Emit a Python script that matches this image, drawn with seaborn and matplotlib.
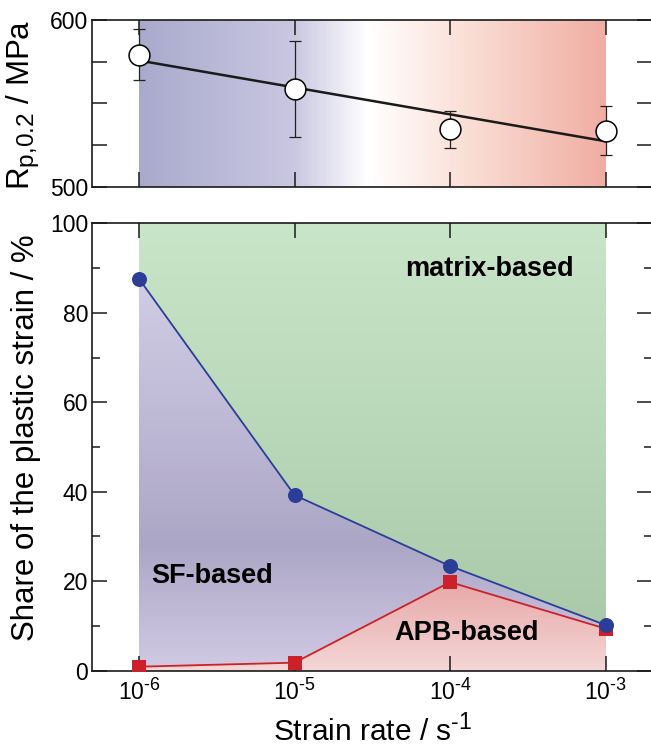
import numpy as np
import pandas as pd
import matplotlib
matplotlib.use("Agg")
import matplotlib.pyplot as plt
import seaborn as sns
from matplotlib.colors import LinearSegmentedColormap
from matplotlib.ticker import NullLocator, FixedLocator, MultipleLocator

try:
    import matplotlib._mathtext as _mt
    _mt.SHRINK_FACTOR = 0.78
except Exception:
    pass

# ---------------- data ----------------
strain_rate = [1e-6, 1e-5, 1e-4, 1e-3]
rp02 = [579.3, 558.6, 534.5, 533.5]
rp02_err = [15.5, 29.0, 11.2, 14.7]

sf_upper = [87.6, 39.25, 23.4, 10.2]      # SF-based / matrix boundary (blue)
apb_upper = [0.9, 1.8, 19.8, 9.4]         # APB-based / SF boundary (red)

x_ticks = [1e-6, 1e-5, 1e-4, 1e-3]
x_tick_labels = ['10$^{\\mathregular{\u20106}}$', '10$^{\\mathregular{\u20105}}$',
                 '10$^{\\mathregular{\u20104}}$', '10$^{\\mathregular{\u20103}}$']
top_yticks = [500, 525, 550, 575, 600]
top_ytick_labels = ['500', '', '', '', '600']

# gradient colours
top_grad_pos = [0.0, 0.333, 0.49, 0.667, 1.0]
top_grad_colors = ['#a9a9cc', '#c9c7e1', '#ffffff', '#fbe4dc', '#f0ada2']
green_stops = [0, 10, 100]
green_colors = ['#a8c8a8', '#a9c9a9', '#c9e5c9']
purple_stops = [0, 28, 60, 100]
purple_colors = ['#d0cae4', '#aca6c6', '#c0bbd7', '#d8d4ea']
red_stops = [0, 20, 100]
red_colors = ['#f4d6d6', '#e7a6a6', '#e7a6a6']

blue = '#2b3d97'
red = '#cc2128'

# ---------------- style ----------------
sns.set_theme(style="ticks")
plt.rcParams['font.family'] = ['Liberation Sans', 'DejaVu Sans']
plt.rcParams.update({
    'mathtext.fontset': 'custom',
    'mathtext.rm': 'Liberation Sans',
    'mathtext.it': 'Liberation Sans:italic',
    'mathtext.bf': 'Liberation Sans:bold',
    'axes.linewidth': 1.2,
    'axes.edgecolor': '#1a1a1a',
    'xtick.color': '#1a1a1a',
    'ytick.color': '#1a1a1a',
    'xtick.labelcolor': 'black',
    'ytick.labelcolor': 'black',
    'text.color': 'black',
    'axes.labelcolor': 'black',
})

fig = plt.figure(figsize=(6.51, 7.47), dpi=100)
ax1 = fig.add_axes([0.1418, 0.7501, 0.8602, 0.2231])
ax2 = fig.add_axes([0.1418, 0.1021, 0.8602, 0.5990])

# ---------------- top panel ----------------
xe = np.logspace(-6, -3, 301)
tc = ((np.log10(xe[:-1]) + np.log10(xe[1:])) / 2 + 6) / 3
cmap_top = LinearSegmentedColormap.from_list('top', list(zip(top_grad_pos, top_grad_colors)))
ax1.pcolormesh(xe, [500, 600], tc[None, :], cmap=cmap_top, vmin=0, vmax=1,
               shading='flat', zorder=0, linewidth=0, antialiased=False)

sns.regplot(x=np.array(strain_rate), y=np.array(rp02), logx=True, ci=None,
            scatter=False, truncate=True, ax=ax1,
            line_kws=dict(color='#1a1a1a', lw=1.8, zorder=3))
ax1.errorbar(strain_rate, rp02, yerr=rp02_err, fmt='none', ecolor='#222222',
             elinewidth=0.9, capsize=4.5, capthick=0.9, zorder=4)
sns.scatterplot(x=strain_rate, y=rp02, ax=ax1, s=225, color='white',
                edgecolor='black', linewidth=1.1, zorder=5, legend=False)

ax1.set_xscale('log')
ax1.set_xlim(10 ** -6.3, 10 ** -2.7)
ax1.set_ylim(500, 600)
ax1.xaxis.set_major_locator(FixedLocator(x_ticks))
ax1.xaxis.set_minor_locator(NullLocator())
ax1.set_yticks(top_yticks)
ax1.set_yticklabels(top_ytick_labels)
ax1.tick_params(axis='both', which='both', direction='in', top=True, right=True,
                labelbottom=False, length=11, width=1.1, labelsize=16.5, pad=3)
ax1.set_xlabel('')
ax1.set_ylabel('R$_{\\mathregular{p{,}0.2}}$ / MPa', fontsize=22.5)
ax1.yaxis.set_label_coords(-0.0916, 0.49)

# ---------------- bottom panel ----------------
def grad_fill(ax, lower, upper, stops, colors):
    poly = ax.fill_between(strain_rate, lower, upper, facecolor='none',
                           edgecolor='none', linewidth=0)
    ye = np.linspace(0, 100, 401)
    yc = (ye[:-1] + ye[1:]) / 2
    cmap = LinearSegmentedColormap.from_list(
        'g', list(zip(np.array(stops) / 100.0, colors)))
    mesh = ax.pcolormesh([strain_rate[0], strain_rate[-1]], ye, yc[:, None],
                         cmap=cmap, vmin=0, vmax=100, shading='flat',
                         zorder=0.5, linewidth=0, antialiased=False)
    mesh.set_clip_path(poly.get_paths()[0], ax.transData)

grad_fill(ax2, sf_upper, [100] * 4, green_stops, green_colors)
grad_fill(ax2, apb_upper, sf_upper, purple_stops, purple_colors)
grad_fill(ax2, [0] * 4, apb_upper, red_stops, red_colors)

df = pd.DataFrame({'rate': strain_rate, 'sf': sf_upper, 'apb': apb_upper})
sns.lineplot(data=df, x='rate', y='apb', ax=ax2, color=red, marker='s',
             markersize=9.5, markeredgewidth=0, linewidth=1.3, zorder=3)
sns.lineplot(data=df, x='rate', y='sf', ax=ax2, color=blue, marker='o',
             markersize=10.8, markeredgewidth=0, linewidth=1.3, zorder=4)

ax2.set_xscale('log')
ax2.set_xlim(10 ** -6.3, 10 ** -2.7)
ax2.set_ylim(0, 100)
ax2.xaxis.set_major_locator(FixedLocator(x_ticks))
ax2.xaxis.set_minor_locator(NullLocator())
ax2.set_xticklabels(x_tick_labels)
ax2.yaxis.set_major_locator(MultipleLocator(20))
ax2.yaxis.set_minor_locator(MultipleLocator(10))
ax2.tick_params(axis='both', which='both', direction='in', top=True, right=True,
                width=1.1, labelsize=16.5)
ax2.tick_params(axis='both', which='major', length=11)
ax2.tick_params(axis='both', which='minor', length=5.5)
ax2.tick_params(axis='x', which='major', pad=6)
ax2.tick_params(axis='y', which='major', pad=3)
ax2.set_xlabel('Strain rate / s$^{\\mathregular{\u20101}}$', fontsize=21.5, labelpad=5.5)
ax2.set_ylabel('Share of the plastic strain / %', fontsize=22.5)
ax2.yaxis.set_label_coords(-0.0916, 0.52)

ax2.text(10 ** -4.289, 88.2, 'matrix-based', ha='left', va='baseline',
         fontsize=19.5, fontweight='bold')
ax2.text(10 ** -5.918, 19.7, 'SF-based', ha='left', va='baseline',
         fontsize=19.5, fontweight='bold')
ax2.text(10 ** -4.360, 6.86, 'APB-based', ha='left', va='baseline',
         fontsize=19.5, fontweight='bold')

fig.savefig('out.png', dpi=100)
